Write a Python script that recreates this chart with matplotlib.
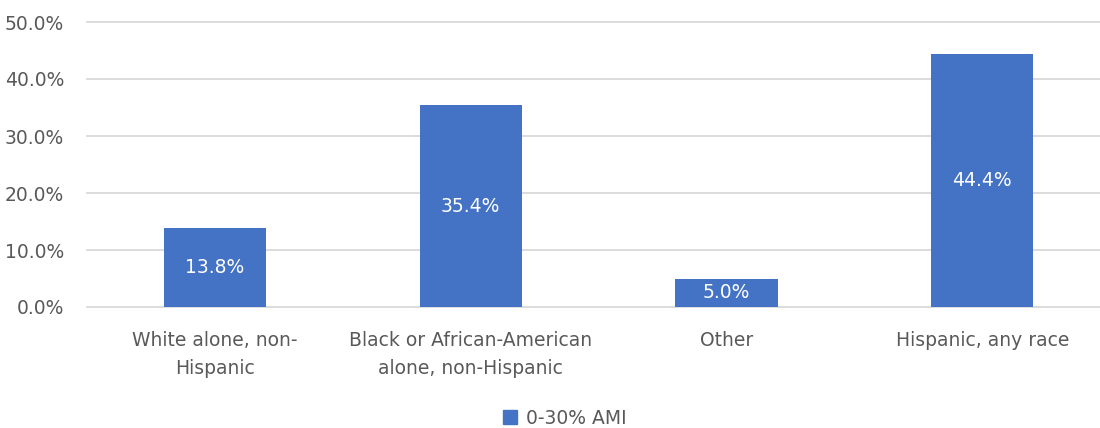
import matplotlib
matplotlib.use("Agg")
import matplotlib.pyplot as plt
from matplotlib.patches import Patch
from matplotlib.ticker import FuncFormatter

categories = [
    "White alone, non-\nHispanic",
    "Black or African-American\nalone, non-Hispanic",
    "Other",
    "Hispanic, any race",
]
values = [13.8, 35.4, 5.0, 44.4]
series_name = "0-30% AMI"
y_ticks = [0, 10, 20, 30, 40, 50]

BAR = "#4472C4"
GRID = "#D9D9D9"
TEXT = "#595959"

plt.rcParams["font.family"] = ["DejaVu Sans"]

W, H = 1100, 428
fig = plt.figure(figsize=(W / 100, H / 100), dpi=100)

left_px, right_px = 87, 1100
bottom_px, top_px = 307, 22
slot = 255.8
ax = fig.add_axes([left_px / W, 1 - bottom_px / H,
                   (right_px - left_px) / W, (bottom_px - top_px) / H])

x = list(range(len(values)))
ax.bar(x, values, width=0.4, color=BAR, zorder=3)
for xi, v in zip(x, values):
    ax.text(xi, v / 2, f"{v:.1f}%", ha="center", va="center",
            color="white", fontsize=13.5, zorder=4)

ax.set_xlim(-0.5, -0.5 + (right_px - left_px) / slot)
ax.set_ylim(0, 50)
ax.set_yticks(y_ticks)
ax.yaxis.set_major_formatter(FuncFormatter(lambda v, p: f"{v:.1f}%"))
ax.set_xticks(x)
ax.set_xticklabels(categories, linespacing=1.6)
ax.tick_params(axis="both", length=0, labelsize=13.5, labelcolor=TEXT)
ax.tick_params(axis="x", pad=17)
ax.tick_params(axis="y", pad=16.5)
ax.grid(axis="y", color=GRID, linewidth=1.3, zorder=0)
for line in ax.get_ygridlines():
    line.set_clip_on(False)
for s in ax.spines.values():
    s.set_visible(False)

handle = Patch(facecolor=BAR, edgecolor=BAR)
fig.legend([handle], [series_name], loc="center", bbox_to_anchor=(565 / W, 1 - 418 / H),
           frameon=False, fontsize=13.5, labelcolor=TEXT, handlelength=0.75,
           handleheight=0.75, handletextpad=0.5)

fig.savefig("out.png", dpi=100, facecolor="white")
